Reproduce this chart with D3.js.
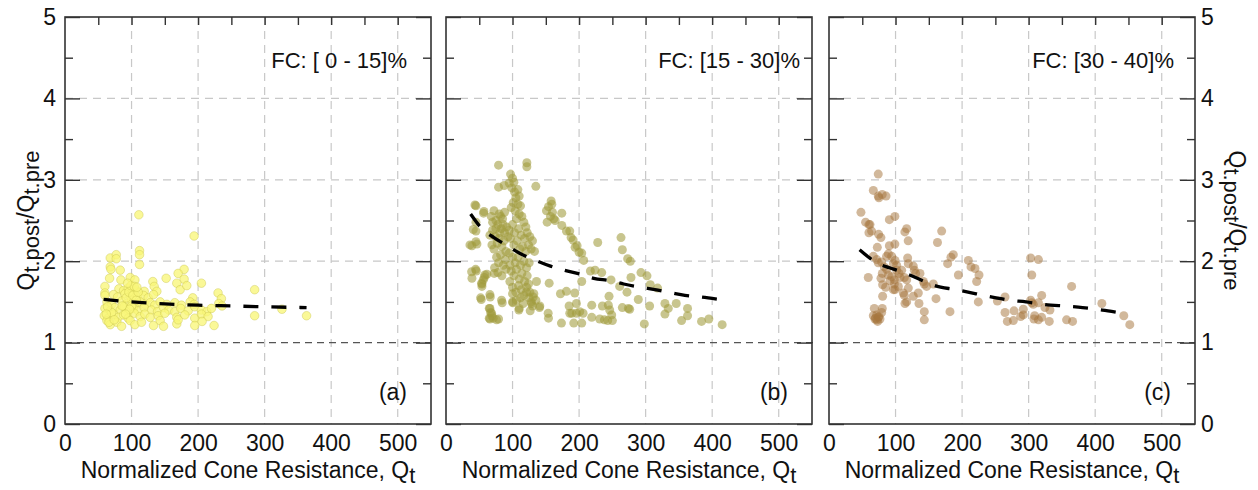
<!DOCTYPE html>
<html>
<head>
<meta charset="utf-8">
<script src="https://cdn.jsdelivr.net/npm/d3@7"></script>
<style>
  body { margin: 0; background: #fff; }
  svg { display: block; }
  text { font-family: "Liberation Sans", Arial, Helvetica, sans-serif; fill: #111; }
</style>
</head>
<body>
<svg id="chart" width="1258" height="490"></svg>
<script>
// ---- data -------------------------------------------------------------
const xTickValues = [0, 100, 200, 300, 400, 500];
const yTickValues = [0, 1, 2, 3, 4, 5];
const fcLabels = ["FC: [ 0 - 15]%", "FC: [15 - 30]%", "FC: [30 - 40]%"];
const panelTags = ["(a)", "(b)", "(c)"];
const xTitle = "Normalized Cone Resistance, Q";
const referenceRatio = 1;

// Qt vs Qt,post/Qt,pre, FC 0-15 %
const pointsA = [
  [111,2.57],[194,2.31],[112,2.13],[112,2.08],[112,1.96],[68,2.04],[77,2.08],[77,2.03],[68,1.93],[69,1.90],
  [83,1.89],[67,1.79],[84,1.77],[98,1.80],[105,1.77],[152,1.79],[179,1.90],[170,1.85],[179,1.78],[168,1.73],
  [173,1.65],[183,1.70],[132,1.75],[134,1.69],[138,1.63],[205,1.73],[60,1.69],[60,1.61],[119,1.63],[192,1.55],
  [230,1.61],[235,1.54],[231,1.48],[236,1.45],[285,1.65],[285,1.33],[326,1.41],[363,1.33],[224,1.21],
  [81,1.66],[88,1.64],[95,1.67],[101,1.63],[106,1.65],
  [60,1.58],[73,1.59],[79,1.56],[90,1.60],[98,1.57],[104,1.60],[109,1.56],[118,1.58],[125,1.55],[133,1.59],
  [63,1.50],[70,1.47],[85,1.51],[93,1.48],[100,1.52],[105,1.46],[113,1.50],[120,1.47],[128,1.49],[135,1.46],
  [143,1.50],[153,1.47],[165,1.49],[175,1.46],[188,1.50],[194,1.47],
  [60,1.42],[68,1.39],[75,1.43],[83,1.40],[89,1.44],[95,1.38],[103,1.42],[110,1.39],[119,1.43],[130,1.40],
  [139,1.38],[148,1.43],[156,1.40],[165,1.38],[174,1.42],[185,1.39],[195,1.44],[205,1.40],[213,1.38],[220,1.42],
  [59,1.33],[65,1.30],[73,1.35],[80,1.31],[88,1.34],[95,1.30],[104,1.36],[113,1.32],[120,1.35],[128,1.31],
  [140,1.33],[150,1.36],[168,1.31],[180,1.34],[195,1.30],[205,1.35],[215,1.32],
  [63,1.27],[68,1.22],[78,1.25],[85,1.20],[98,1.27],[105,1.22],[115,1.25],[133,1.21],[143,1.27],[148,1.20],
  [168,1.23],[170,1.28],[195,1.21],[206,1.26],
  [92,1.55],[96,1.62],[100,1.45],[102,1.58],[107,1.52],[97,1.41],[91,1.35],[86,1.45],[110,1.62],[99,1.70],
  [104,1.69],[94,1.73],[108,1.68],[70,1.37],[64,1.44],[66,1.25],[74,1.28],[62,1.35]
];

// FC 15-30 %
const pointsB = [
  [79,3.18],[121.5,3.21],[121.5,3.16],[79,2.91],[87.5,2.93],[135,2.92],[45,2.68],[56.5,2.59],[39,2.19],[46.5,2.21],
  [45,2.37],[39,1.79],[57.5,1.80],[61.5,1.84],[54,1.69],[54,1.72],[45.5,1.88],[53,1.53],[66.5,1.56],[66,1.42],
  [67,1.37],[69,1.33],[66,1.29],[79,1.29],[84.5,1.49],[100.5,1.49],[109.5,1.40],[126.5,1.39],[140.5,1.43],[154,1.30],
  [52,1.55],[66,1.59],[83.5,1.52],[65,1.42],[68.5,1.36],[71,1.30],[76,1.28],[65,1.30],
  [100,1.50],[110,1.42],[128.5,1.48],[141,1.45],[155,1.73],[153.5,1.36],[172,1.60],[181,1.63],[193.5,1.61],
  [173.5,1.24],[186,1.36],[196,1.48],[201,1.38],
  [38.5,1.87],[44.5,1.90],[58.5,1.83],[53.5,1.73],[56,1.77],[72.5,1.85],[41,2.39],[45,2.48],[57,2.61],[43.5,2.69],
  [36,2.20],[45,2.24],
  [151,2.62],[154,2.67],[158,2.74],[159,2.70],[160,2.60],[157,2.55],[162,2.52],[152,2.48],[164,2.50],[174,2.59],
  [174,2.44],[181,2.37],[186,2.37],[188,2.29],[191,2.26],[194,2.17],[197,2.19],[200,2.11],[204,2.10],[207,2.01],
  [228,2.23],[263,2.29],[265,2.14],[273,2.03],[277,2.00],[224,1.89],[234,1.86],[248,1.77],[261,1.69],[272,1.62],
  [278,1.80],[293,1.86],[302,1.82],[307,1.71],[318,1.67],[245,1.57],[289,1.53],[235,1.45],[244,1.46],[246,1.40],
  [249,1.34],[265,1.43],[274,1.42],[276,1.41],[231,1.29],[238,1.28],[243,1.27],[250,1.27],[306,1.45],[329,1.48],
  [346,1.48],[334,1.42],[363,1.42],[329,1.35],[363,1.33],[298,1.23],[354,1.27],[384,1.26],[395,1.29],[415,1.22],
  [217,1.88],[204,1.75],[219,1.46],[219,1.31],[204,1.24],[192,1.24],[206,1.36],[196,1.36],[189,1.36],[185,1.45],
  [68,2.55],[72,2.62],[75,2.50],[78,2.45],[80,2.58],[83,2.40],[85,2.52],[88,2.35],[70,2.38],[74,2.30],
  [77,2.22],[80,2.28],[84,2.18],[87,2.25],[90,2.12],[72,2.15],[76,2.05],[79,1.98],[82,2.08],[86,1.95],
  [89,2.02],[73,1.92],[78,1.86],[84,1.82],[90,1.90],[66,2.32],[69,2.20],[91,2.42],[93,2.30],[81,2.35],
  [86,2.45],[75,2.40],[82,2.55],[88,2.60],[70,2.48],
  [97,3.07],[100,3.02],[102,2.97],[99,2.90],[103,2.85],[105,2.78],[101,2.72],[98,2.66],[104,2.62],[108,2.70],
  [112,2.68],[110,2.58],[106,2.52],[114,2.55],[117,2.48],[120,2.42],[100,2.45],[95,2.38],[103,2.35],[109,2.40],
  [113,2.32],[118,2.28],[122,2.35],[126,2.30],[130,2.25],[97,2.28],[102,2.20],[107,2.25],[111,2.15],[115,2.18],
  [120,2.12],[124,2.20],[128,2.15],[133,2.12],[95,2.10],[100,2.05],[104,1.98],[108,2.05],[112,1.95],[117,2.00],
  [121,1.92],[125,1.98],[98,1.88],[102,1.82],[106,1.90],[110,1.78],[114,1.85],[118,1.75],[122,1.82],[96,1.75],
  [100,1.68],[105,1.62],[109,1.70],[113,1.65],[117,1.58],[121,1.62],[125,1.55],[128,1.50],[131,1.56],[135,1.52],
  [112,1.55],[116,1.48],[106,1.52],[126,1.62],[130,1.45],[132,1.60],[136,1.75],[121,1.68],[124,1.72],[100,1.60],
  [96,1.95],[95,2.96],[108,2.88],[110,2.80]
];

// FC 30-40 %
const pointsC = [
  [74,3.07],[66.6,2.87],[74,2.80],[75,2.78],[80,2.82],[85.7,2.80],[48,2.60],[55,2.48],[60,2.45],[61.6,2.45],
  [60,2.35],[64,2.37],[74.6,2.33],[78,2.29],[72.6,2.17],[90.7,2.51],[99,2.55],[90.7,2.19],[99,2.21],[114,2.36],
  [116.7,2.40],[119,2.25],[169.3,2.37],[163,2.23],
  [66.6,2.06],[71.7,2.02],[74.1,1.98],[79.1,1.99],[86.6,2.06],[89.2,2.09],[94.2,2.06],[99.2,2.01],[96.7,1.97],[101.7,1.95],
  [83.1,1.93],[86.6,1.90],[80.1,1.85],[78.1,1.79],[89.2,1.83],[94.2,1.81],[98.2,1.77],[101.7,1.89],[105.2,1.85],[109.2,1.89],
  [106.7,1.80],[113.2,1.80],[116.7,1.77],[118.2,2.04],[119.2,1.97],[126.7,1.94],[128.2,1.89],[130.2,1.85],[136.7,1.85],[141.8,1.75],
  [143.2,1.72],[146.7,1.69],[59,1.80],
  [80.6,1.71],[80.6,1.57],[85.1,1.68],[91.7,1.76],[98.2,1.72],[99.2,1.65],[96.7,1.65],[104.2,1.69],[111.7,1.61],[113.2,1.58],
  [114.2,1.48],[116.7,1.50],[119.2,1.67],[126.7,1.57],[134.2,1.61],[135.2,1.48],[143.2,1.38],[143.2,1.28],[160.8,1.54],[156.8,1.72],
  [181.8,1.38],[194.4,1.83],[209.4,2.01],[213.4,1.93],[219.4,1.91],[225.4,1.83],[221.9,1.75],[224.4,1.50],[178.3,1.97],[183.3,2.05],
  [186.8,2.08],
  [68.1,1.42],[66.6,1.33],[71.7,1.34],[74.1,1.31],[73.1,1.26],[79.1,1.37],[80.1,1.42],[69.1,1.29],[76.6,1.29],[72,1.28],
  [70,1.30],[75,1.32],
  [303,2.04],[314.7,2.02],[304.7,1.83],[364.6,1.69],[264.5,1.56],[253,1.51],[303,1.52],[307,1.47],[314.7,1.49],[319.6,1.58],
  [304.7,1.49],[324.5,1.43],[332,1.40],[292,1.41],[278,1.39],[264.5,1.37],[288,1.32],[292,1.34],[309,1.33],[308,1.29],
  [314.7,1.28],[319.6,1.31],[331,1.26],[268,1.26],[277,1.27],[357,1.28],[366,1.26],[410,1.48],[443,1.33],[452,1.22]
];

// fitted trend lines
const trendA = [[58,1.53],[100,1.50],[150,1.475],[200,1.46],[250,1.45],[300,1.44],[363,1.43]];
const trendB = [[37,2.58],[54,2.40],[72,2.29],[92,2.19],[110,2.10],[132,2.02],[157,1.94],[177,1.89],[202,1.84],
                [222,1.79],[247,1.76],[267,1.72],[292,1.68],[314,1.65],[339,1.61],[359,1.58],[384,1.56],[407,1.535]];
const trendC = [[46,2.14],[61,2.04],[74,1.97],[91,1.92],[109,1.87],[121,1.83],[144,1.75],[159,1.70],[191,1.65],
                [221,1.60],[251,1.55],[271,1.52],[296,1.50],[321,1.47],[361,1.445],[381,1.43],[411,1.40],[431,1.375]];

// ---- layout -----------------------------------------------------------
const plotTop = 17, plotBottom = 424, plotW = 366;
const panels = [
  { left: 65,  points: pointsA, trend: trendA, fc: fcLabels[0], tag: panelTags[0], fcInset: 24, refExtend: 0,
    yLabels: "left",  style: { r: 4.3, fill: "#f8f67a", op: 0.78, stroke: "#c8c24a", sw: 0.6 } },
  { left: 446, points: pointsB, trend: trendB, fc: fcLabels[1], tag: panelTags[1], fcInset: 12, refExtend: 4,
    yLabels: "none",  style: { r: 4.5, fill: "#a19b3c", op: 0.58, stroke: "none", sw: 0 } },
  { left: 829, points: pointsC, trend: trendC, fc: fcLabels[2], tag: panelTags[2], fcInset: 21, refExtend: 0,
    yLabels: "right", style: { r: 4.5, fill: "#a7773f", op: 0.52, stroke: "none", sw: 0 } }
];

const svg = d3.select("#chart");
const FONT = 23;

panels.forEach(p => {
  const x = d3.scaleLinear().domain([0, 550]).range([p.left, p.left + plotW]);
  const y = d3.scaleLinear().domain([0, 5]).range([plotBottom, plotTop]);
  const g = svg.append("g");

  // grid
  g.append("g").selectAll("line").data(xTickValues.filter(v => v > 0)).join("line")
    .attr("x1", d => x(d)).attr("x2", d => x(d)).attr("y1", plotTop).attr("y2", plotBottom)
    .attr("stroke", "#c8c8c8").attr("stroke-width", 1.2).attr("stroke-dasharray", "8,6");
  g.append("g").selectAll("line").data(yTickValues.filter(v => v > 1 && v < 5)).join("line")
    .attr("x1", x(0)).attr("x2", x(550)).attr("y1", d => y(d)).attr("y2", d => y(d))
    .attr("stroke", "#c8c8c8").attr("stroke-width", 1.2).attr("stroke-dasharray", "8,6");
  // ratio = 1 reference
  g.append("line")
    .attr("x1", x(0)).attr("x2", x(550) + p.refExtend).attr("y1", y(referenceRatio)).attr("y2", y(referenceRatio))
    .attr("stroke", "#555").attr("stroke-width", 1.3).attr("stroke-dasharray", "7,5");

  // scatter
  g.append("g").selectAll("circle").data(p.points).join("circle")
    .attr("cx", d => x(d[0])).attr("cy", d => y(d[1])).attr("r", p.style.r)
    .attr("fill", p.style.fill).attr("fill-opacity", p.style.op)
    .attr("stroke", p.style.stroke).attr("stroke-width", p.style.sw).attr("stroke-opacity", 0.7);

  // trend
  g.append("path").datum(p.trend)
    .attr("d", d3.line().x(d => x(d[0])).y(d => y(d[1])).curve(d3.curveMonotoneX))
    .attr("fill", "none").attr("stroke", "#000").attr("stroke-width", 3.3)
    .attr("stroke-dasharray", "15,13");

  // inner ticks
  const minor = d3.range(0.5, 5, 1);
  const major = yTickValues;
  g.append("g").attr("transform", `translate(${x(0)},0)`)
    .call(d3.axisLeft(y).tickValues(minor).tickSize(-8).tickFormat(""));
  g.append("g").attr("transform", `translate(${x(0)},0)`)
    .call(d3.axisLeft(y).tickValues(major).tickSize(-15).tickFormat(""));
  g.append("g").attr("transform", `translate(${x(550)},0)`)
    .call(d3.axisRight(y).tickValues(minor).tickSize(-8).tickFormat(""));
  g.append("g").attr("transform", `translate(${x(550)},0)`)
    .call(d3.axisRight(y).tickValues(major).tickSize(-15).tickFormat(""));
  g.append("g").attr("transform", `translate(0,${plotTop})`)
    .call(d3.axisTop(x).tickValues(d3.range(50, 550, 50)).tickSize(-8).tickFormat(""));
  g.selectAll(".domain").remove();
  g.selectAll(".tick line").attr("stroke", "#333").attr("stroke-width", 1.4);

  // frame
  g.append("rect").attr("x", x(0)).attr("y", plotTop).attr("width", plotW).attr("height", plotBottom - plotTop)
    .attr("fill", "none").attr("stroke", "#333").attr("stroke-width", 1.6);

  // x tick labels
  const xAx = g.append("g").attr("transform", `translate(0,${plotBottom})`)
    .call(d3.axisBottom(x).tickValues(xTickValues).tickSize(0).tickPadding(0).tickFormat(d3.format("d")));
  xAx.select(".domain").remove();
  xAx.selectAll("text").attr("font-size", FONT).attr("dy", null).attr("y", 27)
    .style("font-family", '"Liberation Sans", Arial, sans-serif').attr("fill", "#111");

  // x title
  const xt = g.append("text").attr("x", x(0) + plotW / 2).attr("y", 478)
    .attr("text-anchor", "middle").attr("font-size", FONT);
  xt.append("tspan").text(xTitle);
  xt.append("tspan").attr("dy", 5).attr("font-size", 22).text("t");

  // y tick labels and title
  if (p.yLabels !== "none") {
    const isLeft = p.yLabels === "left";
    const yAx = g.append("g").attr("transform", `translate(${isLeft ? x(0) : x(550)},0)`)
      .call((isLeft ? d3.axisLeft(y) : d3.axisRight(y)).tickValues(yTickValues)
        .tickSize(0).tickPadding(isLeft ? 9 : 6).tickFormat(d3.format("d")));
    yAx.select(".domain").remove();
    yAx.selectAll("text").attr("font-size", FONT)
      .style("font-family", '"Liberation Sans", Arial, sans-serif').attr("fill", "#111");

    const tx = isLeft ? 34 : 1229;
    const yt = g.append("text")
      .attr("transform", `translate(${tx},${(plotTop + plotBottom) / 2}) rotate(${isLeft ? -90 : 90})`)
      .attr("text-anchor", "middle").attr("font-size", FONT);
    yt.append("tspan").text("Q");
    yt.append("tspan").attr("dy", 5).attr("font-size", 22).text("t.post");
    yt.append("tspan").attr("dy", -5).text("/Q");
    yt.append("tspan").attr("dy", 5).attr("font-size", 22).text("t.pre");
  }

  // annotations
  g.append("text").attr("x", x(550) - p.fcInset).attr("y", 68)
    .attr("text-anchor", "end").attr("font-size", 22).text(p.fc);
  g.append("text").attr("x", x(550) - 24).attr("y", 400)
    .attr("text-anchor", "end").attr("font-size", FONT).text(p.tag);
});
</script>
</body>
</html>
